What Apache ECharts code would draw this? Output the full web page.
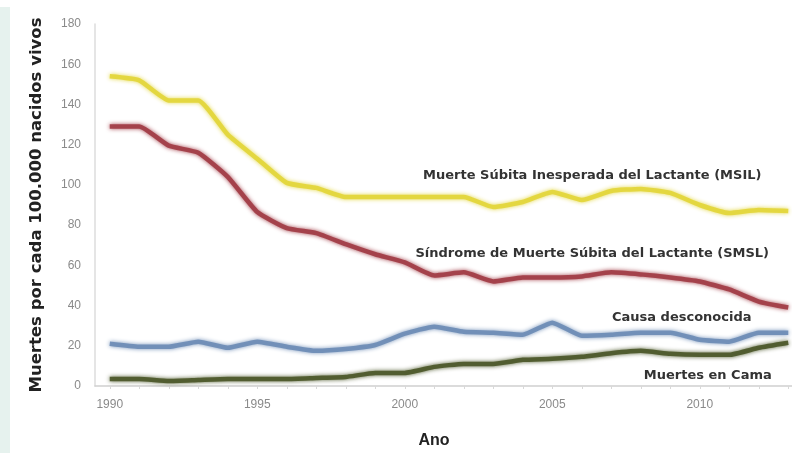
<!DOCTYPE html>
<html>
<head>
<meta charset="utf-8">
<script src="https://cdn.jsdelivr.net/npm/echarts@6/dist/echarts.min.js"></script>
<style>
  html, body { margin: 0; padding: 0; background: #fff; }
  #chart { width: 792px; height: 453px; }
</style>
</head>
<body>
<div id="chart"></div>
<script>
// años 1990-2013
const years = ['1990','1991','1992','1993','1994','1995','1996','1997','1998','1999','2000','2001',
  '2002','2003','2004','2005','2006','2007','2008','2009','2010','2011','2012','2013'];

// Muerte Súbita Inesperada del Lactante (MSIL)
const msil = [154, 152, 142, 142, 125, 113, 101, 98.5, 94, 94, 94, 94,
  94, 89, 91.5, 96.5, 92.5, 97, 98, 96, 90, 86, 87.5, 87];
// Síndrome de Muerte Súbita del Lactante (SMSL)
const smsl = [129, 129, 119.5, 116, 104, 86.5, 78.5, 76, 70.5, 65.5, 61.5, 55,
  56.5, 52, 54, 54, 54.5, 56.5, 55.5, 54, 52, 48, 42, 39];
// Causa desconocida
const causa = [21, 19.5, 19.5, 22, 19, 22, 19.5, 17.5, 18.4, 20.4, 26, 29.5,
  27, 26.5, 25.5, 31.5, 25, 25.5, 26.5, 26.5, 23, 22, 26.5, 26.5];
// Muertes en Cama
const cama = [3.5, 3.5, 2.5, 3, 3.5, 3.5, 3.5, 4, 4.5, 6.5, 6.5, 9.5,
  11, 11, 13, 13.5, 14.5, 16.3, 17.5, 16, 15.5, 15.5, 19, 21.5];

const names = ['Muerte Súbita Inesperada del Lactante (MSIL)', 'Síndrome de Muerte Súbita del Lactante (SMSL)',
  'Causa desconocida', 'Muertes en Cama'];
// posición de las etiquetas (año, valor)
const labelPos = [['2007', 104.4], ['2007', 66], ['2010', 33.8], ['2010', 5]];

const chart = echarts.init(document.getElementById('chart'));

const mkSeries = (name, data, color, pos, dx) => ({
  name: name,
  type: 'line',
  data: data,
  showSymbol: false,
  smooth: 0.15,
  lineStyle: { color: color, width: 4.5, shadowColor: color, shadowBlur: 4, opacity: 0.95 },
  itemStyle: { color: color },
  markPoint: {
    symbol: 'circle',
    symbolSize: 0,
    silent: true,
    label: {
      show: true,
      formatter: name,
      position: 'inside',
      offset: [dx, 0],
      color: '#333',
      fontFamily: 'DejaVu Sans',
      fontWeight: 'bold',
      fontSize: 13
    },
    data: [{ coord: pos }]
  }
});

const option = {
  animation: false,
  backgroundColor: '#fff',
  graphic: [
    { type: 'rect', shape: { x: 0, y: 7, width: 10, height: 446 }, style: { fill: '#e6f2ee' } }
  ],
  grid: { left: 95, width: 708, top: 24, height: 362, outerBoundsMode: 'none' },
  xAxis: {
    type: 'category',
    data: years,
    boundaryGap: true,
    name: 'Ano',
    nameLocation: 'middle',
    nameGap: 47,
    nameTextStyle: { color: '#222', fontSize: 16, fontWeight: 'bold', fontFamily: 'Liberation Sans', padding: [0, 30, 0, 0] },
    axisLine: { lineStyle: { color: '#cfcfcf', width: 1.5 } },
    axisTick: { show: true, alignWithLabel: true, interval: 0, length: 3, inside: false, lineStyle: { color: '#d8d8d8' } },
    axisLabel: { interval: 4, color: '#8a8a8a', fontSize: 12, fontFamily: 'Liberation Sans', margin: 13 },
    splitLine: { show: false }
  },
  yAxis: {
    type: 'value',
    min: 0,
    max: 180,
    interval: 20,
    name: 'Muertes por cada 100.000 nacidos vivos',
    nameLocation: 'middle',
    nameGap: 50,
    nameTextStyle: { color: '#222', fontSize: 16.5, fontWeight: 'bold', fontFamily: 'DejaVu Sans' },
    axisLine: { show: true, lineStyle: { color: '#dcdcdc', width: 1.5 } },
    axisTick: { show: false },
    axisLabel: { color: '#8a8a8a', fontSize: 12, fontFamily: 'Liberation Sans', margin: 14 },
    splitLine: { show: false }
  },
  series: [
    mkSeries(names[0], msil, '#e3d63c', labelPos[0], -19),
    mkSeries(names[1], smsl, '#a23e48', labelPos[1], -19),
    mkSeries(names[2], causa, '#6f8db6', labelPos[2], -18),
    mkSeries(names[3], cama, '#4e5a2c', labelPos[3], 8)
  ]
};

chart.setOption(option);
</script>
</body>
</html>
